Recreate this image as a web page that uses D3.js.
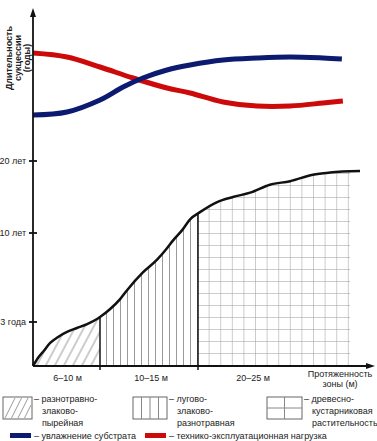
<!DOCTYPE html>
<html lang="ru">
<head>
<meta charset="UTF-8">
<title>Длительность сукцессии</title>
<script src="https://d3js.org/d3.v7.min.js"></script>
<style>
  body { margin: 0; background: #fff; }
  svg text { font-family: "Liberation Sans", Arial, sans-serif; fill: #222; }
  .lbl { font-size: 9px; }
  .bold { font-weight: bold; }
</style>
</head>
<body>
<script>
// profile position (0..100 abstract units along the zone) and succession years
const succX = [0, 1.5, 3, 5.2, 7.6, 10.3, 13.3, 16.4, 19.4, 20.3, 23.3, 26.4, 28.5, 33.3, 37.6, 40.6, 42.4, 45.2, 47.6, 50.6, 55.8, 60.6, 65.8, 71.8, 77.9, 84.8, 90, 99.1];
const succYears = [0, 0.55, 0.95, 1.57, 1.98, 2.32, 2.59, 2.86, 3.24, 3.39, 4.0, 4.8, 5.5, 6.9, 7.9, 8.8, 9.4, 10.4, 11.9, 12.9, 14.3, 15.0, 15.6, 16.7, 17.2, 18.1, 18.4, 18.6];

// relative level of the two factors (upper part of the chart)
const factorX = [0, 10.3, 20.3, 27.3, 33.3, 40.6, 47.6, 57.6, 67.9, 77.9, 87.9, 93.6];
const moisture = [15, 18, 30, 43, 52, 60, 65, 70, 72, 73, 72, 71];
const factorXRed = [0, 10.3, 20.3, 30.3, 40.6, 47.6, 57.6, 67.9, 77.9, 87.9, 93.9];
const load = [77, 73, 63, 52, 42, 37, 28, 24, 24, 27, 29];

const yearTicks = [3, 10, 20];
const yearLabels = ["3 года", "10 лет", "20 лет"];
const zoneEdges = [0, 20.3, 50, 95.2];
const zoneLabels = ["6–10 м", "10–15 м", "20–25 м"];
const zonePatterns = ["diag", "vert", "grid"];

const W = 377, H = 441;
const svg = d3.select("body").append("svg").attr("width", W).attr("height", H);

const x = d3.scaleLinear().domain([0, 100]).range([33, 363]);
const y = d3.scaleLinear().domain([0, 3, 10, 20]).range([366, 322, 233, 161]);
const yTop = d3.scaleLinear().domain([0, 100]).range([130, 30]);

// patterns
const defs = svg.append("defs");
const pDiag = defs.append("pattern").attr("id", "diag").attr("patternUnits", "userSpaceOnUse")
  .attr("width", 8).attr("height", 10).attr("patternTransform", "rotate(28)");
pDiag.append("line").attr("x1", 4).attr("x2", 4).attr("y1", 0).attr("y2", 10)
  .attr("stroke", "#9a9a9a").attr("stroke-width", 1);
const pVert = defs.append("pattern").attr("id", "vert").attr("patternUnits", "userSpaceOnUse")
  .attr("x", 100).attr("width", 7).attr("height", 10);
pVert.append("line").attr("x1", 6.5).attr("x2", 6.5).attr("y1", 0).attr("y2", 10)
  .attr("stroke", "#9a9a9a").attr("stroke-width", 1);
const pGrid = defs.append("pattern").attr("id", "grid").attr("patternUnits", "userSpaceOnUse")
  .attr("x", 198).attr("y", 6).attr("width", 11.6).attr("height", 12);
pGrid.append("path").attr("d", "M11.6,0V12M0,12H11.6")
  .attr("fill", "none").attr("stroke", "#9a9a9a").attr("stroke-width", 1);

const pts = succX.map((v, i) => [v, succYears[i]]);
const area = d3.area().x(d => x(d[0])).y0(y(0)).y1(d => y(d[1])).curve(d3.curveMonotoneX);
const line = d3.line().x(d => x(d[0])).y(d => y(d[1])).curve(d3.curveMonotoneX);

defs.append("clipPath").attr("id", "under").append("path").attr("d", area(pts));

// zone fills
zonePatterns.forEach((p, i) => {
  svg.append("rect")
    .attr("clip-path", "url(#under)")
    .attr("x", x(zoneEdges[i]))
    .attr("y", 100)
    .attr("width", x(zoneEdges[i + 1]) - x(zoneEdges[i]) + (i === 2 ? 3 : 0))
    .attr("height", y(0) - 100)
    .attr("fill", `url(#${p})`);
});

// zone dividers
[1, 2].forEach(i => {
  const xv = zoneEdges[i];
  const bis = d3.bisector(d => d).left(succX, xv);
  const t = (xv - succX[bis - 1]) / (succX[bis] - succX[bis - 1]);
  const yr = succYears[bis - 1] + t * (succYears[bis] - succYears[bis - 1]);
  svg.append("line")
    .attr("x1", x(xv)).attr("x2", x(xv))
    .attr("y1", y(yr)).attr("y2", y(0) + 4)
    .attr("stroke", "#111").attr("stroke-width", 1.5);
});

// succession curve
svg.append("path").attr("d", line(pts))
  .attr("fill", "none").attr("stroke", "#111").attr("stroke-width", 2.5);

// factor curves
const fline = d3.line().x(d => x(d[0])).y(d => yTop(d[1])).curve(d3.curveCatmullRom);
svg.append("path").attr("d", fline(factorXRed.map((v, i) => [v, load[i]])))
  .attr("fill", "none").attr("stroke", "#cc0a0a").attr("stroke-width", 5);
svg.append("path").attr("d", fline(factorX.map((v, i) => [v, moisture[i]])))
  .attr("fill", "none").attr("stroke", "#0c1a70").attr("stroke-width", 5);

// axes
svg.append("line").attr("x1", x(0)).attr("x2", x(0)).attr("y1", y(0)).attr("y2", 14)
  .attr("stroke", "#111").attr("stroke-width", 1.8);
svg.append("path").attr("d", `M${x(0) - 3},17L${x(0)},8L${x(0) + 3},17Z`).attr("fill", "#111");
svg.append("line").attr("x1", x(0)).attr("x2", 368).attr("y1", y(0)).attr("y2", y(0))
  .attr("stroke", "#111").attr("stroke-width", 1.8);
svg.append("path").attr("d", `M366,${y(0) - 3}L375,${y(0)}L366,${y(0) + 3}Z`).attr("fill", "#111");

// y ticks
yearTicks.forEach((t, i) => {
  svg.append("line").attr("x1", x(0) - 4).attr("x2", x(0) + 4)
    .attr("y1", y(t)).attr("y2", y(t)).attr("stroke", "#111").attr("stroke-width", 1.8);
  svg.append("text").attr("class", "lbl").attr("x", 26).attr("y", y(t) + 3)
    .attr("text-anchor", "end").text(yearLabels[i]);
});

// y title
const yt = svg.append("text").attr("class", "lbl bold").attr("text-anchor", "middle")
  .attr("transform", "translate(12,58) rotate(-90)");
["Длительность", "сукцессии", "(годы)"].forEach((s, i) => {
  yt.append("tspan").attr("x", 0).attr("y", i * 8.8).text(s);
});

// zone labels
zoneLabels.forEach((s, i) => {
  const cx = i === 2 ? 253 : (x(zoneEdges[i]) + x(zoneEdges[i + 1])) / 2 + (i === 0 ? 1 : 2);
  svg.append("text").attr("class", "lbl").attr("x", cx).attr("y", 381)
    .attr("text-anchor", "middle").text(s);
});
const xt = svg.append("text").attr("class", "lbl").attr("text-anchor", "middle");
xt.append("tspan").attr("x", 340).attr("y", 377).text("Протяженность");
xt.append("tspan").attr("x", 340).attr("y", 387).text("зоны (м)");

// legend
const legendBoxes = [
  { x: 3, pat: "diag", lines: ["– разнотравно-", "злаково-", "пырейная"] },
  { x: 133, pat: "vert", lines: ["– лугово-", "злаково-", "разнотравная"] },
  { x: 267, pat: "grid", lines: ["– древесно-", "кустарниковая", "растительность"] }
];
legendBoxes.forEach((b, k) => {
  const g = svg.append("g");
  const bw = k === 2 ? 35 : (k === 1 ? 34 : 29), bh = 22, by = 397;
  g.append("rect").attr("x", b.x).attr("y", by).attr("width", bw).attr("height", bh)
    .attr("fill", "#fff").attr("stroke", "#666").attr("stroke-width", 1);
  if (k === 0) {
    for (let i = 0; i < 5; i++) {
      const x0 = b.x + 2 + i * 6.5;
      g.append("line").attr("x1", x0).attr("y1", by + bh - 1).attr("x2", Math.min(x0 + 10, b.x + bw - 1)).attr("y2", by + 1 + Math.max(0, x0 + 10 - (b.x + bw - 1)) * 2)
        .attr("stroke", "#9a9a9a");
    }
  } else if (k === 1) {
    [1, 2, 3].forEach(j => g.append("line").attr("x1", b.x + j * bw / 4).attr("x2", b.x + j * bw / 4)
      .attr("y1", by).attr("y2", by + bh).attr("stroke", "#888"));
  } else {
    g.append("line").attr("x1", b.x + bw / 2).attr("x2", b.x + bw / 2).attr("y1", by).attr("y2", by + bh).attr("stroke", "#888");
    g.append("line").attr("x1", b.x).attr("x2", b.x + bw).attr("y1", by + bh / 2).attr("y2", by + bh / 2).attr("stroke", "#888");
  }
  b.lines.forEach((s, i) => {
    g.append("text").attr("class", "lbl")
      .attr("x", b.x + bw + (i === 0 ? 2 : 10)).attr("y", 402 + i * 12).text(s);
  });
});

const lineLegend = [
  { x: 10, color: "#0c1a70", label: "– увлажнение субстрата" },
  { x: 145, color: "#cc0a0a", label: "– технико-эксплуатационная нагрузка" }
];
lineLegend.forEach(l => {
  svg.append("rect").attr("x", l.x).attr("y", 433).attr("width", 21).attr("height", 5).attr("fill", l.color);
  svg.append("text").attr("class", "lbl").attr("x", l.x + 24).attr("y", 438.5).text(l.label);
});
</script>
</body>
</html>
